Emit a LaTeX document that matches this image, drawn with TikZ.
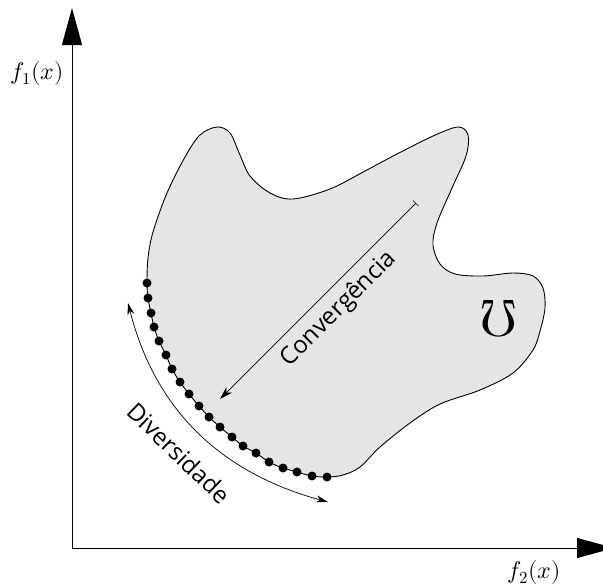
\documentclass[tikz,border=0pt]{standalone}
\usepackage{fontspec}
\usepackage{unicode-math}
\setmathfont{Latin Modern Math}
\newfontfamily\labelfont{Open Sans}
\usetikzlibrary{arrows.meta}
\definecolor{blobfill}{gray}{0.9}
\begin{document}
\begin{tikzpicture}[x=1pt,y=-1pt,
  axis/.style={line width=1pt, -{Triangle[length=37pt,width=20pt]}},
  blob/.style={draw=black, line width=0.9pt, fill=blobfill},
  dot/.style={circle, fill=black, inner sep=0pt, minimum size=9pt},
  thinarrow/.style={line width=0.7pt},
  lbl/.style={font=\labelfont\fontsize{24}{24}\selectfont, inner sep=0pt},
  axislabel/.style={font=\fontsize{24}{24}\selectfont, inner sep=0pt}]
\useasboundingbox (0,0) rectangle (603,587);

% axes
\coordinate (O) at (72,548);
\coordinate (Ytop) at (72,8);
\coordinate (Xend) at (614,548);
\draw[axis] (O) -- (Ytop);
\draw[axis] (O) -- (Xend);
\node[axislabel] (f1) at (37,73) {$f_1(x)$};
\node[axislabel] (f2) at (534,572) {$f_2(x)$};

% feasible region
\draw[blob] plot[smooth cycle, tension=0.55] coordinates {
 (147,283) (148,258) (153,232) (167,193) (185,157) (200,135) (217,127)
 (230,133) (240,155) (250,176) (270,193) (293,199) (330,189) (365,171)
 (397,154) (433,136) (458,127) (468,135) (466,156) (452,188) (437,223)
 (433,245) (440,264) (455,274) (483,276) (513,273) (533,276) (543,288)
 (545,308) (540,331) (533,350) (513,373) (480,390) (440,404) (410,423)
 (380,447) (360,467) (343,475) (327,477)
 (312,476) (297,472) (283,468) (269,462) (256,453) (243,446) (232,437)
 (220,427) (209,417) (199,406) (189,394) (180,382) (172,369) (166,355)
 (159,341) (154,327) (151,313) (148,298)};

% Pareto front dots
\foreach \p [count=\i] in {(147,283),(148,298),(151,313),(154,327),(159,341),
  (166,355),(172,369),(180,382),(189,394),(199,406),(209,417),(220,427),
  (232,437),(243,446),(256,453),(269,462),(283,468),(297,472),(312,476),(327,477)}
  \node[dot] (d\i) at \p {};

% symbol
\node[rotate=180, font=\fontsize{52}{52}\selectfont, inner sep=0pt] (mho) at (499,319) {$\Omega$};

% convergence
\coordinate (cA) at (416,203);
\coordinate (cB) at (220,399);
\draw[thinarrow, {Bar[width=8pt]}-{Stealth[length=13pt,width=8pt,inset=4pt]}] (cA) -- (cB);
\node[lbl, rotate=45] (conv) at (339,309) {Convergência};

% diversity
\coordinate (dvA) at (128,303);
\coordinate (dvB) at (328,502);
\draw[thinarrow, {Stealth[length=12pt,width=7pt,inset=4pt]}-{Stealth[length=12pt,width=7pt,inset=4pt]}]
  (dvA) .. controls (155,410) and (221,473) .. (dvB);
\node[lbl, rotate=-44] (div) at (179,453) {Diversidade};
\end{tikzpicture}
\end{document}
